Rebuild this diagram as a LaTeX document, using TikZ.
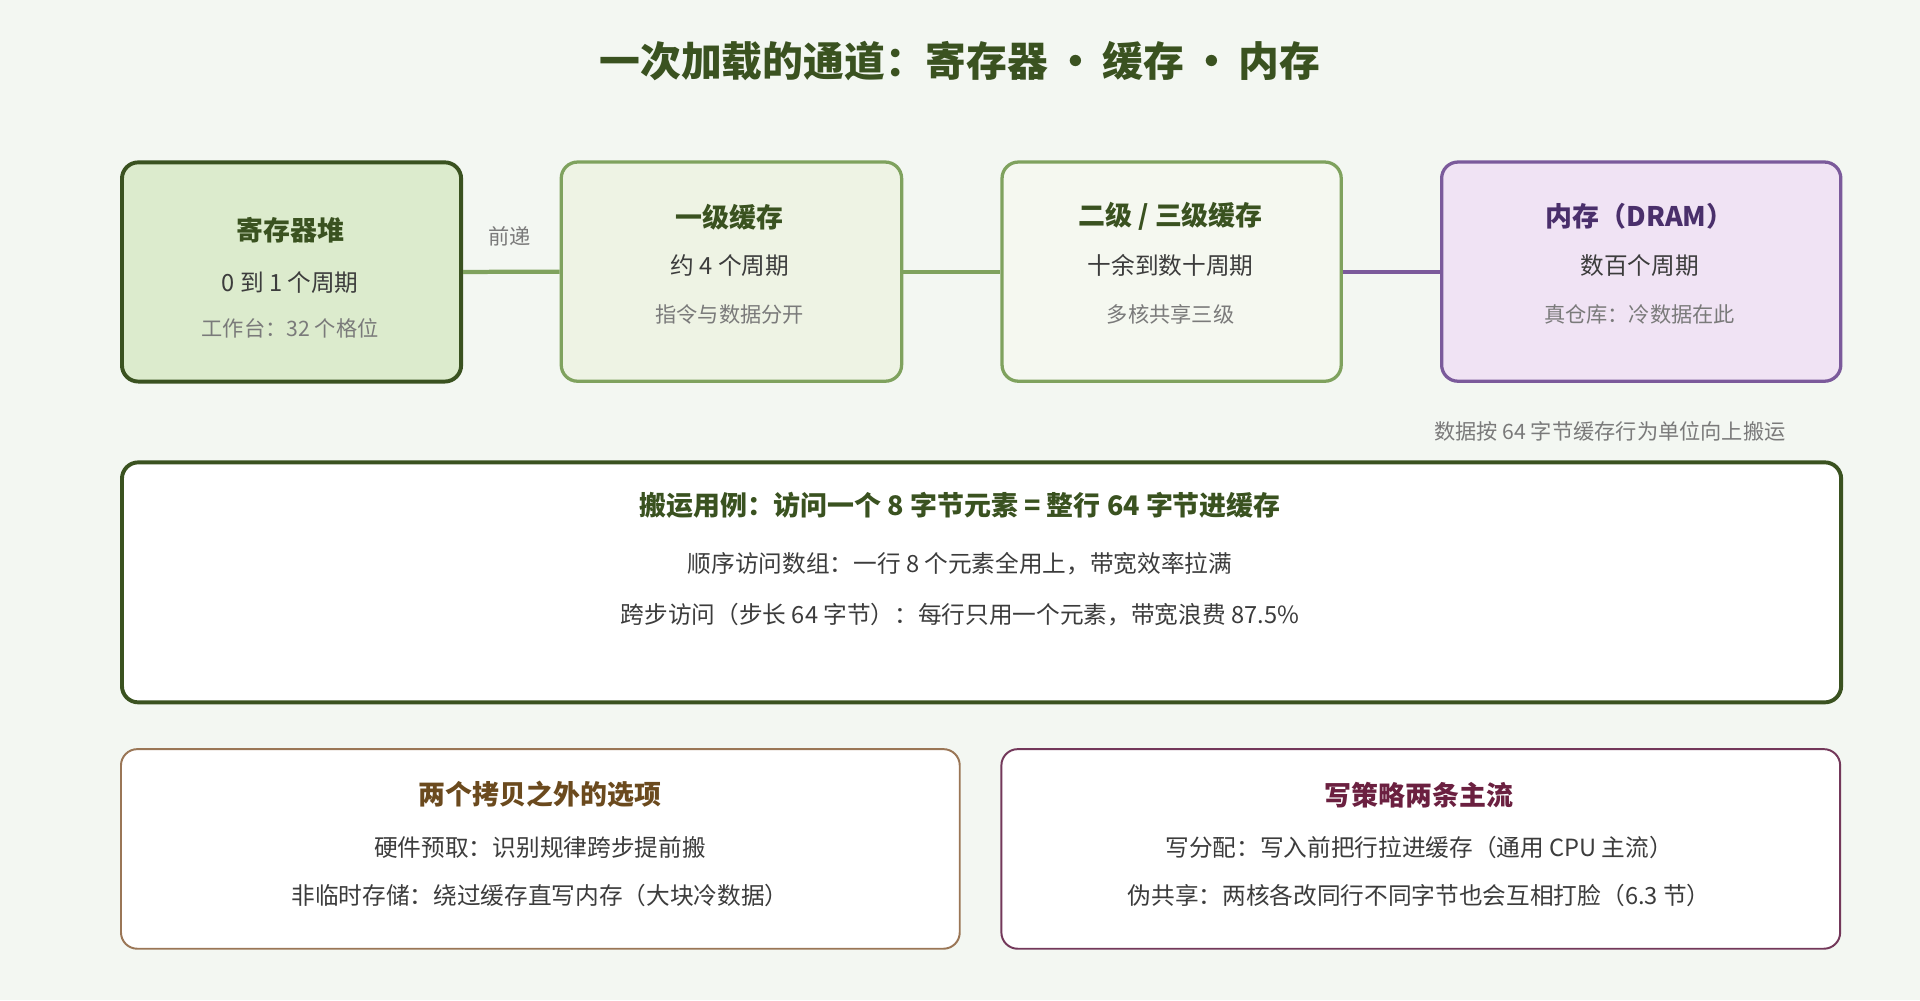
\documentclass[tikz,border=0pt]{standalone}
\usepackage{fontspec}
\setmainfont{Noto Sans CJK SC}
\definecolor{pagebg}{HTML}{F3F7F2}
\definecolor{deepgreen}{HTML}{3A5220}
\definecolor{midgreen}{HTML}{7FA25E}
\definecolor{regfill}{HTML}{DCEBCD}
\definecolor{lonefill}{HTML}{EEF3E4}
\definecolor{ltwofill}{HTML}{F5F8F0}
\definecolor{dramline}{HTML}{7B5A9B}
\definecolor{dramfill}{HTML}{F0E3F4}
\definecolor{dramtext}{HTML}{4A2F6B}
\definecolor{brownline}{HTML}{9A7656}
\definecolor{browntext}{HTML}{6B4A1E}
\definecolor{plumline}{HTML}{73385A}
\definecolor{plumtext}{HTML}{6B2040}
\definecolor{bodytext}{HTML}{3C3C3C}
\definecolor{softtext}{HTML}{7A7A7A}
\tikzset{
  box/.style={draw, rounded corners=10pt, anchor=north west},
  head/.style={font=\fontsize{16.5}{19}\selectfont\bfseries},
  body/.style={font=\fontsize{14.5}{17}\selectfont, text=bodytext},
  small/.style={font=\fontsize{13}{15}\selectfont, text=softtext},
  link/.style={line width=2.6pt}
}
\begin{document}
\begin{tikzpicture}[x=0.75pt, y=-0.75pt]
\fill[pagebg] (0,0) rectangle (1568,817);
\useasboundingbox (0,0) rectangle (1568,817);

% Title
\node[font=\fontsize{25}{29}\selectfont\bfseries, text=deepgreen] (title) at (784,50) {一次加载的通道：寄存器\,·\,缓存\,·\,内存};

% Four levels
\node[box, fill=regfill, draw=deepgreen, line width=2.4pt, minimum width=277*0.75pt, minimum height=179*0.75pt] (reg) at (98,131) {};
\node[box, fill=lonefill, draw=midgreen, line width=2pt, minimum width=278*0.75pt, minimum height=179*0.75pt] (lone) at (457,131) {};
\node[box, fill=ltwofill, draw=midgreen, line width=2pt, minimum width=277*0.75pt, minimum height=179*0.75pt] (ltwo) at (817,131) {};
\node[box, fill=dramfill, draw=dramline, line width=2pt, minimum width=326*0.75pt, minimum height=179*0.75pt] (dram) at (1176,131) {};

\draw[link, midgreen] (reg.east) -- (lone.west);
\draw[link, midgreen] (lone.east) -- (ltwo.west);
\draw[link, dramline] (ltwo.east) -- (dram.west);
\node[small] (fwd) at (416,193) {前递};

\node[head, text=deepgreen] at (237,188) {寄存器堆};
\node[body] at (237,231) {0 到 1 个周期};
\node[small] at (237,268) {工作台：32 个格位};

\node[head, text=deepgreen] at (596,177) {一级缓存};
\node[body] at (596,217) {约 4 个周期};
\node[small] at (596,257) {指令与数据分开};

\node[head, text=deepgreen] at (956,177) {二级 / 三级缓存};
\node[body] at (956,217) {十余到数十周期};
\node[small] at (956,257) {多核共享三级};

\node[head, text=dramtext] at (1339,177) {内存（DRAM）};
\node[body] at (1339,217) {数百个周期};
\node[small] at (1339,257) {真仓库：冷数据在此};

\node[small, anchor=east] (note) at (1463,352) {数据按 64 字节缓存行为单位向上搬运};

% Cache line example
\node[box, fill=white, draw=deepgreen, line width=2.4pt, minimum width=1404*0.75pt, minimum height=196*0.75pt] (usecase) at (98,376) {};
\node[head, text=deepgreen] at (784,413) {搬运用例：访问一个 8 字节元素 = 整行 64 字节进缓存};
\node[body] at (784,460) {顺序访问数组：一行 8 个元素全用上，带宽效率拉满};
\node[body] at (784,502) {跨步访问（步长 64 字节）：每行只用一个元素，带宽浪费 87.5\%};

% Bottom notes
\node[box, fill=white, draw=brownline, line width=1.2pt, minimum width=685*0.75pt, minimum height=163*0.75pt] (options) at (98,611) {};
\node[head, text=browntext] at (441,649) {两个拷贝之外的选项};
\node[body] at (441,692) {硬件预取：识别规律跨步提前搬};
\node[body] at (441,731) {非临时存储：绕过缓存直写内存（大块冷数据）};

\node[box, fill=white, draw=plumline, line width=1.2pt, minimum width=685*0.75pt, minimum height=163*0.75pt] (policy) at (817,611) {};
\node[head, text=plumtext] at (1159,649) {写策略两条主流};
\node[body] at (1159,692) {写分配：写入前把行拉进缓存（通用 CPU 主流）};
\node[body] at (1159,731) {伪共享：两核各改同行不同字节也会互相打脸（6.3 节）};
\end{tikzpicture}
\end{document}
